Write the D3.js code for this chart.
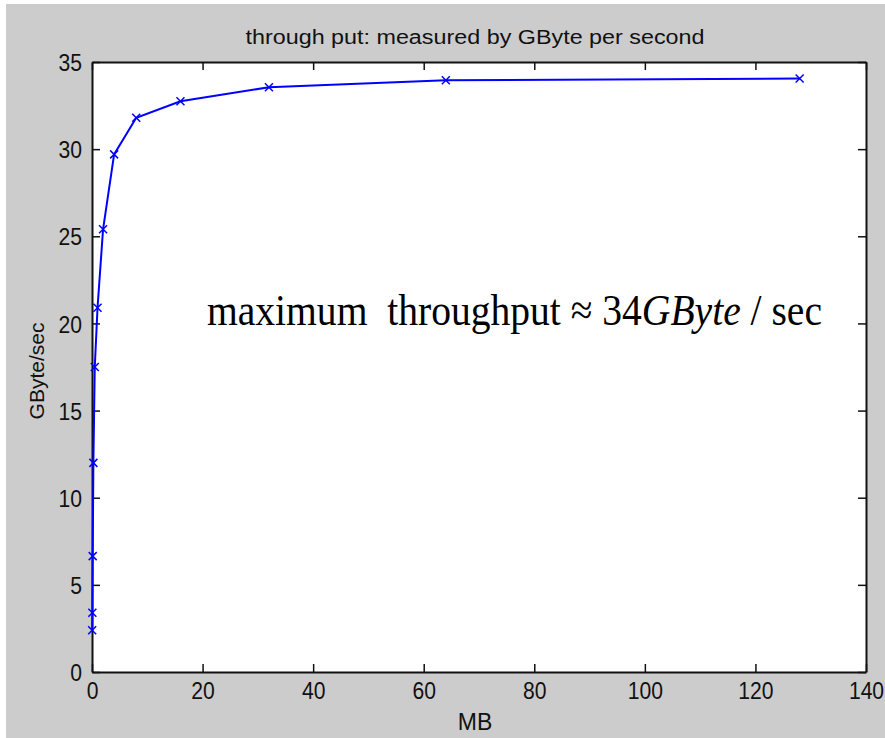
<!DOCTYPE html>
<html lang="en">
	<head>
		<meta charset="utf-8">
		<title>through put</title>
		<script src="https://d3js.org/d3.v7.min.js"></script>
		<style type="text/css">
			body { margin: 0; background: #fff; }
			.tick text { font-family: "Liberation Sans", Arial, sans-serif; font-size: 24px; fill: #111; }
		</style>
	</head>
	<body>
		<script type="text/javascript">
			//Data
			var sizesMB = [0.03125, 0.0625, 0.125, 0.25, 0.5, 1, 2, 4, 8, 16, 32, 64, 128];
			var gbPerSec = [2.4, 3.4, 6.65, 12.0, 17.5, 20.9, 25.4, 29.7, 31.8, 32.75, 33.55, 33.95, 34.05];
			var xTicks = [0, 20, 40, 60, 80, 100, 120, 140];
			var yTicks = [0, 5, 10, 15, 20, 25, 30, 35];
			var titleText = "through put: measured by GByte per second";
			var xLabel = "MB";
			var yLabel = "GByte/sec";

			//Width and height
			var w = 885;
			var h = 738;
			var mLeft = 92, mRight = 866, mTop = 62, mBottom = 672;

			var svg = d3.select("body")
						.append("svg")
						.attr("width", w)
						.attr("height", h);

			//grey figure background, thin white strip top/left
			svg.append("rect")
				.attr("x", 6).attr("y", 4)
				.attr("width", w - 6).attr("height", h - 4)
				.style("fill", "#cccccc");

			svg.append("rect")
				.attr("x", mLeft).attr("y", mTop)
				.attr("width", mRight - mLeft).attr("height", mBottom - mTop)
				.style("fill", "#ffffff");

			var x = d3.scaleLinear().domain([0, 140]).range([mLeft, mRight]);
			var y = d3.scaleLinear().domain([0, 35]).range([mBottom, mTop]);

			//axes, ticks pointing inwards
			var xAxis = svg.append("g")
				.attr("transform", "translate(0," + mBottom + ")")
				.call(d3.axisBottom(x).tickValues(xTicks).tickSizeInner(-8).tickSizeOuter(0).tickPadding(10));
			var yAxis = svg.append("g")
				.attr("transform", "translate(" + mLeft + ",0)")
				.call(d3.axisLeft(y).tickValues(yTicks).tickSizeInner(-8).tickSizeOuter(0).tickPadding(10));
			svg.append("g")
				.attr("transform", "translate(0," + mTop + ")")
				.call(d3.axisTop(x).tickValues(xTicks).tickSizeInner(-8).tickSizeOuter(0).tickFormat(""));
			svg.append("g")
				.attr("transform", "translate(" + mRight + ",0)")
				.call(d3.axisRight(y).tickValues(yTicks).tickSizeInner(-8).tickSizeOuter(0).tickFormat(""));

			svg.selectAll(".domain").style("stroke", "#111").style("stroke-width", 2);
			svg.selectAll(".tick line").style("stroke", "#111").style("stroke-width", 1.5);
			//narrow the digits a bit like the old screen font
			xAxis.selectAll(".tick text").attr("dy", "0.71em").attr("transform", "scale(0.88,1)");
			yAxis.selectAll(".tick text").attr("x", -10 / 0.88).attr("dy", "0.36em").attr("transform", "scale(0.88,1)");

			//line + x markers
			var pts = sizesMB.map(function(d, i) { return [d, gbPerSec[i]]; });
			var line = d3.line()
				.x(function(d) { return x(d[0]); })
				.y(function(d) { return y(d[1]); });

			svg.append("path")
				.datum(pts)
				.attr("d", line)
				.style("fill", "none")
				.style("stroke", "#0000ff")
				.style("stroke-width", 2);

			svg.selectAll(".mk")
				.data(pts)
				.enter()
				.append("path")
				.attr("class", "mk")
				.attr("d", function(d) {
					var cx = x(d[0]), cy = y(d[1]), r = 4;
					return "M" + (cx - r) + "," + (cy - r) + "L" + (cx + r) + "," + (cy + r) +
						"M" + (cx - r) + "," + (cy + r) + "L" + (cx + r) + "," + (cy - r);
				})
				.style("stroke", "#0000ff")
				.style("stroke-width", 1.5);

			//texts
			svg.append("text")
				.attr("x", (mLeft + mRight) / 2 - 4)
				.attr("y", 44)
				.attr("text-anchor", "middle")
				.attr("textLength", 459)
				.attr("lengthAdjust", "spacingAndGlyphs")
				.style("font-family", "'Liberation Sans', Arial, sans-serif")
				.style("font-size", "20px")
				.style("fill", "#111")
				.text(titleText);

			svg.append("text")
				.attr("x", (mLeft + mRight) / 2 - 4)
				.attr("y", 730)
				.attr("text-anchor", "middle")
				.style("font-family", "'Liberation Sans', Arial, sans-serif")
				.style("font-size", "23px")
				.style("fill", "#111")
				.text(xLabel);

			svg.append("text")
				.attr("transform", "translate(44," + ((mTop + mBottom) / 2 + 4) + ") rotate(-90)")
				.attr("text-anchor", "middle")
				.style("font-family", "'Liberation Sans', Arial, sans-serif")
				.style("font-size", "21px")
				.style("fill", "#111")
				.text(yLabel);

			var note = svg.append("text")
				.attr("x", 207)
				.attr("y", 325)
				.attr("textLength", 615)
				.attr("lengthAdjust", "spacingAndGlyphs")
				.style("font-family", "'Liberation Serif', 'Times New Roman', serif")
				.style("font-size", "44px")
				.style("fill", "#000");
			note.append("tspan").attr("xml:space", "preserve").text("maximum\u00a0\u00a0throughput \u2248 34");
			note.append("tspan").style("font-style", "italic").text("GByte");
			note.append("tspan").text(" / sec");
		</script>
	</body>
</html>
